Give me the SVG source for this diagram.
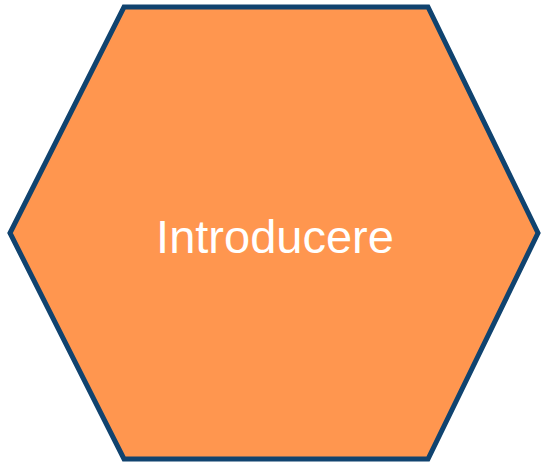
<svg xmlns="http://www.w3.org/2000/svg" width="541" height="463" viewBox="0 0 541 463">
<style>
.hex{fill:#FF964F;stroke:#10436F;stroke-width:5;stroke-linejoin:miter}
.lbl{font-family:"Liberation Sans",Arial,sans-serif;font-size:47px;fill:#FFFFFF;text-anchor:middle}
</style>
<g id="introducere">
<polygon class="hex" points="124,7 428,7 538,233 428,459 124,459 10,233"/>
<text class="lbl" x="275" y="253">Introducere</text>
</g>
<g id="connectors"></g>
</svg>
